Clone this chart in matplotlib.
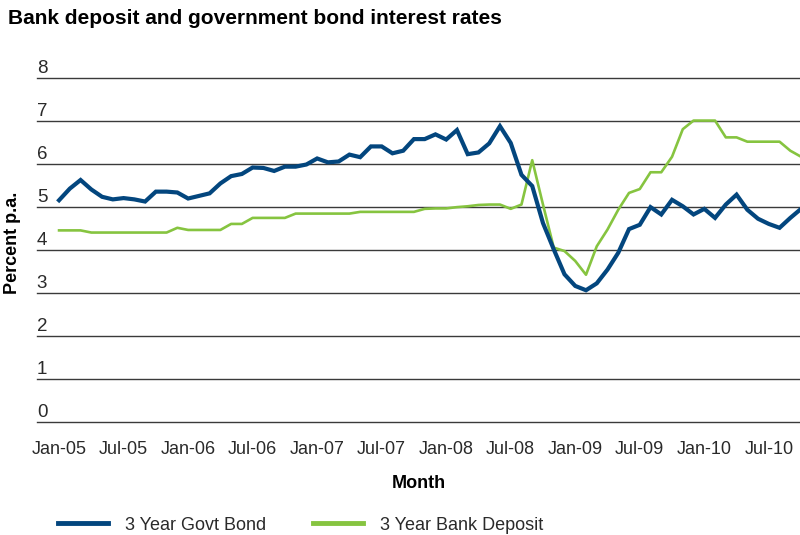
import matplotlib
matplotlib.use("Agg")
import matplotlib.pyplot as plt
import matplotlib.transforms as mtransforms
import numpy as np

plt.rcParams['font.family'] = ['Liberation Sans', 'DejaVu Sans']

# monthly rates, Jan-05 onwards
govt_bond = [5.15, 5.42, 5.62, 5.40, 5.23, 5.17, 5.20, 5.17, 5.12, 5.35,
             5.35, 5.33, 5.19, 5.25, 5.31, 5.54, 5.71, 5.76, 5.91, 5.90,
             5.83, 5.93, 5.93, 5.98, 6.12, 6.03, 6.05, 6.21, 6.15, 6.40,
             6.40, 6.24, 6.30, 6.57, 6.57, 6.68, 6.56, 6.78, 6.22, 6.26,
             6.47, 6.87, 6.48, 5.74, 5.48, 4.62, 4.01, 3.43, 3.16, 3.06,
             3.22, 3.54, 3.93, 4.48, 4.58, 4.99, 4.82, 5.16, 5.01, 4.82,
             4.95, 4.74, 5.05, 5.28, 4.93, 4.72, 4.60, 4.51, 4.74, 4.95]

bank_deposit = [4.45, 4.45, 4.45, 4.40, 4.40, 4.40, 4.40, 4.40, 4.40, 4.40,
                4.40, 4.51, 4.46, 4.46, 4.46, 4.46, 4.60, 4.60, 4.74, 4.74,
                4.74, 4.74, 4.84, 4.84, 4.84, 4.84, 4.84, 4.84, 4.88, 4.88,
                4.88, 4.88, 4.88, 4.88, 4.95, 4.96, 4.96, 4.99, 5.01, 5.04,
                5.05, 5.05, 4.95, 5.05, 6.08, 5.05, 4.05, 3.97, 3.74, 3.42,
                4.08, 4.47, 4.93, 5.32, 5.41, 5.80, 5.80, 6.16, 6.80, 7.00,
                7.00, 7.00, 6.61, 6.61, 6.51, 6.51, 6.51, 6.51, 6.30, 6.16]

tick_labels = ['Jan-05', 'Jul-05', 'Jan-06', 'Jul-06', 'Jan-07', 'Jul-07',
               'Jan-08', 'Jul-08', 'Jan-09', 'Jul-09', 'Jan-10', 'Jul-10']
y_ticks = [0, 1, 2, 3, 4, 5, 6, 7, 8]

blue = '#03467E'
green = '#86C440'
text_col = '#2a2a2a'

months = np.arange(len(govt_bond))

fig = plt.figure(figsize=(8, 5.35), dpi=100)
ax = fig.add_axes([0.046, 0.2112, 0.954, 0.6439])

ax.plot(months, govt_bond, color=blue, lw=3.0, solid_joinstyle='miter',
        label='3 Year Govt Bond', zorder=3)
ax.plot(months, bank_deposit, color=green, lw=1.9,
        label='3 Year Bank Deposit', zorder=2)

ax.set_xlim(-2.07, 68.9)
ax.set_ylim(0, 8)

for s in ax.spines.values():
    s.set_visible(False)

# horizontal grid with the value sitting just above each line
ax.set_yticks(y_ticks)
ax.set_yticklabels([])
ax.tick_params(axis='y', length=0)
ax.grid(axis='y', color='#3a3a3a', lw=1.0)
ax.set_axisbelow(True)
for gl in ax.yaxis.get_gridlines():
    gl.set_clip_on(False)
ytrans = mtransforms.blended_transform_factory(ax.transAxes, ax.transData)
for v in y_ticks:
    ax.text(0.0, v + 0.02, str(v), transform=ytrans, ha='left', va='bottom',
            fontsize=13.5, color=text_col)

ax.set_xticks(months[::6])
ax.set_xticklabels(tick_labels, fontsize=13, color=text_col)
ax.tick_params(axis='x', length=0, pad=14)

ax.set_xlabel('Month', fontsize=13, fontweight='bold', labelpad=12)
fig.text(0.016, 0.546, 'Percent p.a.', rotation=90, ha='center', va='center',
         fontsize=13, fontweight='bold')

fig.text(0.01, 0.965, 'Bank deposit and government bond interest rates',
         ha='left', va='center', fontsize=15, fontweight='bold')

leg = fig.legend(loc='center left', bbox_to_anchor=(58 / 800, 1 - 525 / 535),
                 ncol=2, frameon=False, fontsize=13, handlelength=2.75,
                 handletextpad=0.95, columnspacing=2.6,
                 borderpad=0, borderaxespad=0)
for h in leg.legend_handles:
    h.set_linewidth(3.5)
for t in leg.get_texts():
    t.set_color(text_col)

fig.savefig('out.png', dpi=100)
